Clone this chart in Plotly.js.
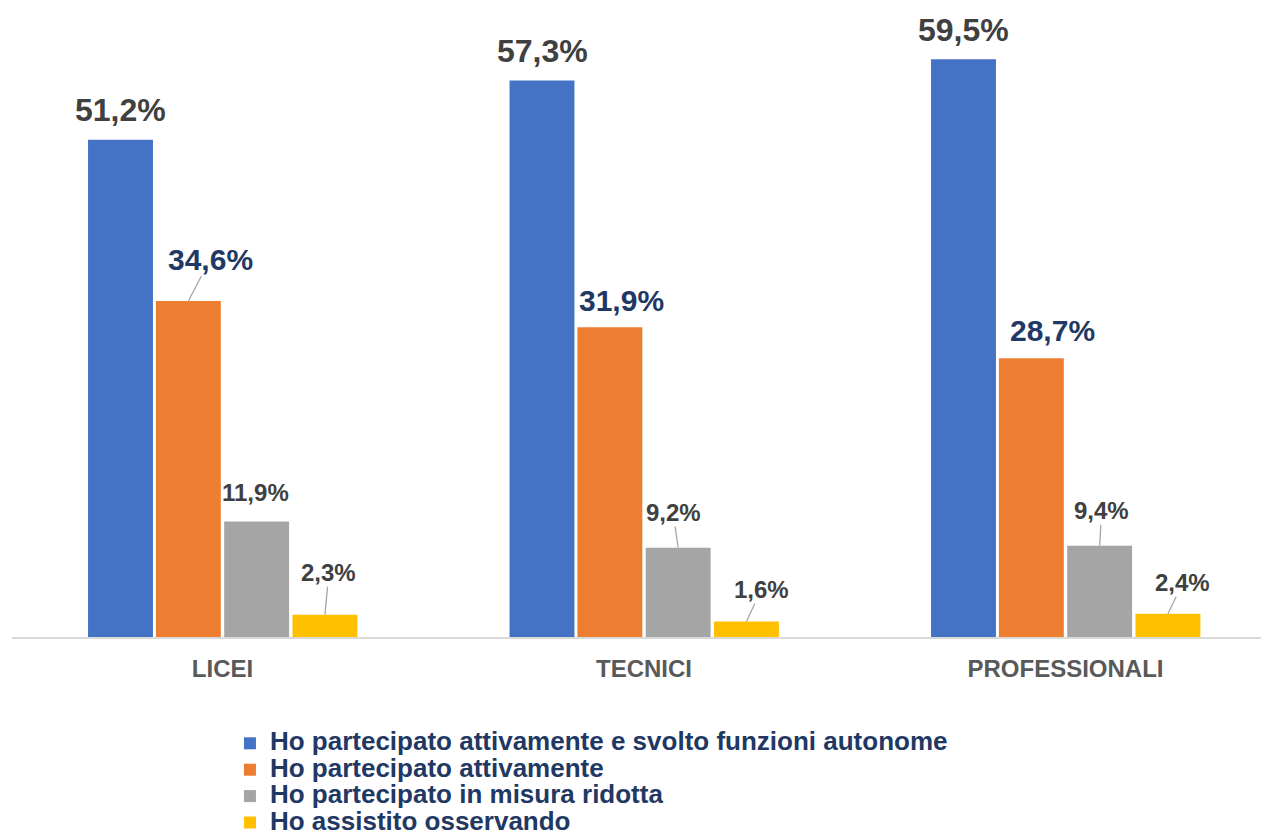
<!DOCTYPE html>
<html>
<head>
<meta charset="utf-8">
<script src="https://cdn.plot.ly/plotly-3.0.1.min.js"></script>
<style>html,body{margin:0;padding:0;background:#fff;}#chart{width:1261px;height:831px;}</style>
</head>
<body>
<div id="chart"></div>
<script>
// ---- data ----
var categories = ["LICEI", "TECNICI", "PROFESSIONALI"];
var seriesNames = [
  "Ho partecipato attivamente e svolto funzioni autonome",
  "Ho partecipato attivamente",
  "Ho partecipato in misura ridotta",
  "Ho assistito osservando"
];
var autonome = [51.2, 57.3, 59.5];
var attivamente = [34.6, 31.9, 28.7];
var ridotta = [11.9, 9.2, 9.4];
var osservando = [2.3, 1.6, 2.4];

// ---- styling ----
var seriesValues = [autonome, attivamente, ridotta, osservando];
var colors = ["#4472C4", "#ED7D31", "#A5A5A5", "#FFC000"];
var labelColors = ["#404040", "#1F3864", "#404040", "#404040"];
var labelSizes = [32, 30, 24, 24];
var barWidth = 0.154;
var centerOffsets = [-0.242, -0.081, 0.081, 0.243];
// label offsets in px relative to bar top [dx, dy, leaderLine]
var labelPos = [
  [[0, -30, 0], [0, -30, 0], [0, -29, 0]],
  [[22, -42, 1], [12, -27, 0], [21, -28, 0]],
  [[-1, -29, 0], [-5, -35, 1], [2, -35, 1]],
  [[4, -42, 1], [15, -32, 1], [15, -31, 1]]
];
var FONT = "Arial, 'Liberation Sans', sans-serif";
var xIdx = categories.map(function (c, i) { return i; });

var traces = seriesValues.map(function (vals, s) {
  return {
    type: "bar",
    name: '<span style="font-size:26px">' + seriesNames[s] + '</span>',
    x: xIdx,
    y: vals,
    width: barWidth,
    offset: centerOffsets[s] - barWidth / 2,
    marker: { color: colors[s], line: { width: 0 } },
    hoverinfo: "skip"
  };
});

var annotations = [];
seriesValues.forEach(function (vals, s) {
  vals.forEach(function (v, i) {
    var p = labelPos[s][i];
    var txt = v.toFixed(1).replace(".", ",") + "%";
    var a = {
      xref: "x", yref: "y",
      x: i + centerOffsets[s], y: v,
      text: txt,
      font: { family: FONT, size: labelSizes[s], color: labelColors[s], weight: "bold" }
    };
    if (p[2]) {
      a.showarrow = true;
      a.arrowhead = 0;
      a.arrowwidth = 1.3;
      a.arrowcolor = "#A6A6A6";
      a.axref = "pixel"; a.ayref = "pixel";
      a.ax = p[0]; a.ay = p[1];
      a.standoff = 0;
      a.borderpad = 0;
    } else {
      a.showarrow = false;
      a.xanchor = "center"; a.yanchor = "middle";
      a.xshift = p[0]; a.yshift = -p[1];
    }
    annotations.push(a);
  });
});

var layout = {
  width: 1261, height: 831,
  margin: { l: 12, r: 0, t: 0, b: 194, pad: 0, autoexpand: false },
  paper_bgcolor: "#ffffff", plot_bgcolor: "#ffffff",
  barmode: "overlay",
  showlegend: true,
  xaxis: {
    range: [-0.4994, 2.4638],
    tickvals: xIdx, ticktext: categories,
    showline: true, linecolor: "#D9D9D9", linewidth: 2,
    showgrid: false, zeroline: false, ticks: "",
    automargin: false,
    ticklabelstandoff: 9,
    tickfont: { family: FONT, size: 24, color: "#595959", weight: "bold" },
    fixedrange: true
  },
  yaxis: {
    range: [0, 65.6],
    visible: false, showgrid: false, zeroline: false, fixedrange: true
  },
  legend: {
    orientation: "v",
    x: 0.1745, xanchor: "left",
    y: -0.1383, yanchor: "top",
    font: { family: FONT, size: 18, color: "#1F3864", weight: "bold" },
    bgcolor: "rgba(0,0,0,0)",
    itemclick: false, itemdoubleclick: false,
    tracegroupgap: 0
  },
  annotations: annotations
};

Plotly.newPlot("chart", traces, layout, { displayModeBar: false, staticPlot: true });
</script>
</body>
</html>
